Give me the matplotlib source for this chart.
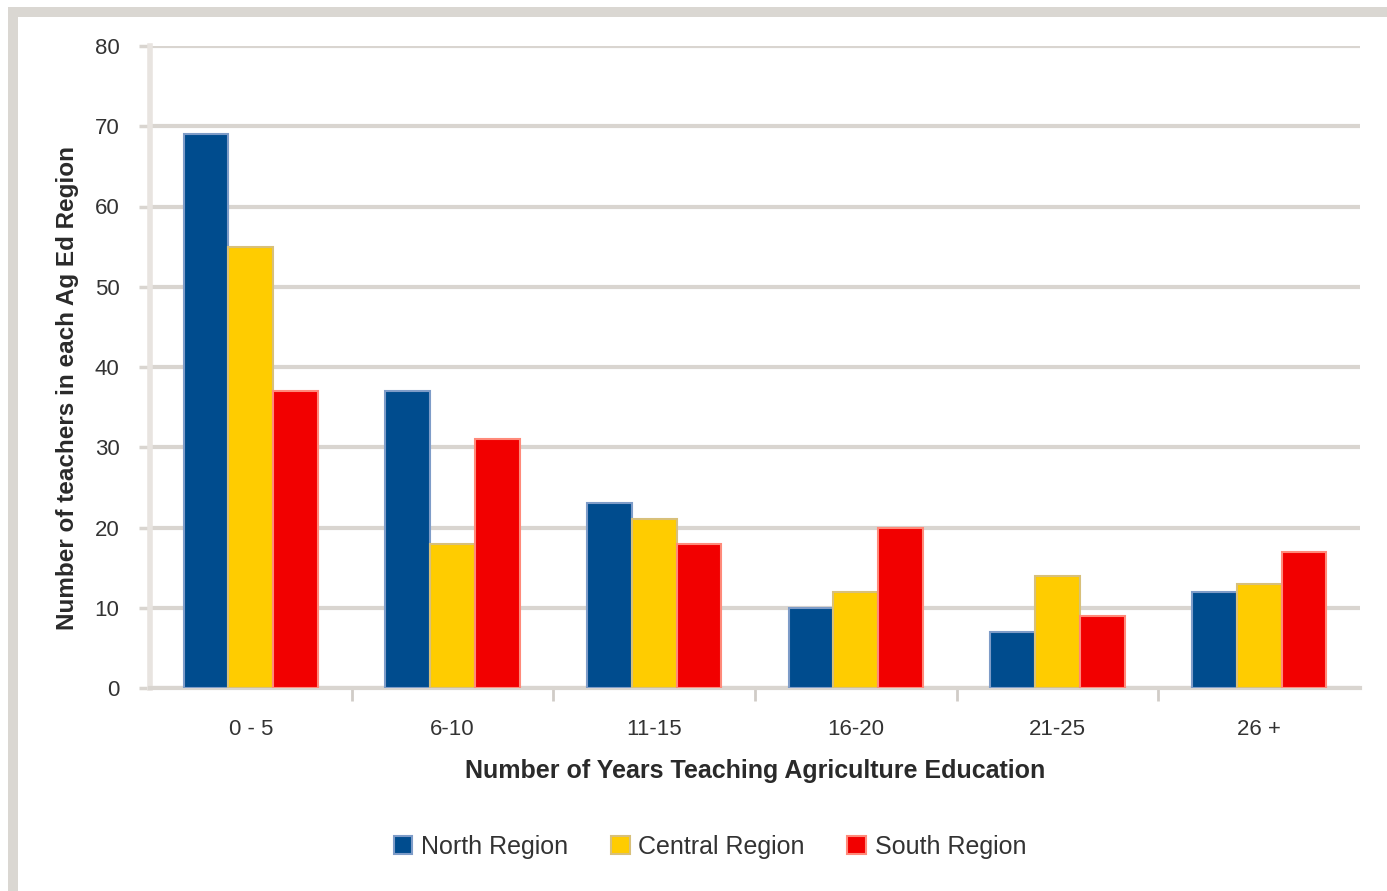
import matplotlib
matplotlib.use("Agg")
import matplotlib.pyplot as plt
import numpy as np
from matplotlib.patches import Rectangle

categories = ["0 - 5", "6-10", "11-15", "16-20", "21-25", "26 +"]
series_names = ["North Region", "Central Region", "South Region"]
north = [69, 37, 23, 10, 7, 12]
central = [55, 18, 21, 12, 14, 13]
south = [37, 31, 18, 20, 9, 17]
yticks = [0, 10, 20, 30, 40, 50, 60, 70, 80]

colors = ["#004C8E", "#FFCC00", "#F20000"]
edges = ["#7E9CC8", "#D8C07A", "#FF8A7A"]

plt.rcParams['font.family'] = ['Liberation Sans', 'DejaVu Sans']

W, H = 1387, 891
fig = plt.figure(figsize=(W / 100, H / 100), dpi=100)
fig.patch.set_facecolor("white")

# screenshot frame bands
fig.patches.append(Rectangle((8 / W, 1 - 17 / H), 1 - 8 / W, 10 / H, transform=fig.transFigure,
                             facecolor="#DAD7D2", edgecolor="none", zorder=0))
fig.patches.append(Rectangle((8 / W, 0), 10 / W, 1 - 7 / H, transform=fig.transFigure,
                             facecolor="#DAD7D2", edgecolor="none", zorder=0))

ax = fig.add_axes([150 / W, 1 - 688 / H, (1360 - 150) / W, (688 - 46) / H])

x = np.arange(len(categories))
bw = 0.222
for i, (vals, name) in enumerate(zip([north, central, south], series_names)):
    ax.bar(x + (i - 1) * bw, vals, width=bw, color=colors[i], edgecolor=edges[i],
           linewidth=1.5, label=name, zorder=3)

ax.set_xlim(-0.5, len(categories) - 0.5)
ax.set_ylim(0, 80)
ax.set_yticks(yticks)
ax.set_yticklabels([str(t) for t in yticks], fontsize=16, color="#333333")
ax.set_xticks(x)
ax.set_xticklabels(categories, fontsize=16, color="#333333")
ax.tick_params(axis='x', length=0, pad=22)
ax.tick_params(axis='y', length=8, color="#D9D5D0", width=2.5, pad=14)
ax.set_xticks(np.arange(0.5, len(categories) - 0.5, 1), minor=True)
ax.tick_params(axis='x', which='minor', length=9, color="#D0CCC7", width=2)

ax.yaxis.grid(True, color="#D9D5D0", linewidth=3, zorder=0)
ax.set_axisbelow(True)
for s in ["top", "right"]:
    ax.spines[s].set_visible(False)
ax.spines["left"].set_color("#E8E4E0")
ax.spines["left"].set_linewidth(4)
ax.spines["bottom"].set_color("#D9D5D0")
ax.spines["bottom"].set_linewidth(3)

ax.set_xlabel("Number of Years Teaching Agriculture Education", fontsize=18,
              fontweight="bold", color="#2a2a2a", labelpad=14)
ax.set_ylabel("Number of teachers in each Ag Ed Region", fontsize=17.5,
              fontweight="bold", color="#2a2a2a", va="center")
ax.yaxis.set_label_coords(-0.068, 0.467)

leg = fig.legend(loc="center", bbox_to_anchor=(710 / W, 1 - 847 / H), ncol=3, frameon=False,
                 fontsize=18, handlelength=0.75, handleheight=0.75, columnspacing=1.7,
                 handletextpad=0.35)
for t in leg.get_texts():
    t.set_color("#333333")

fig.savefig("out.png", dpi=100)
